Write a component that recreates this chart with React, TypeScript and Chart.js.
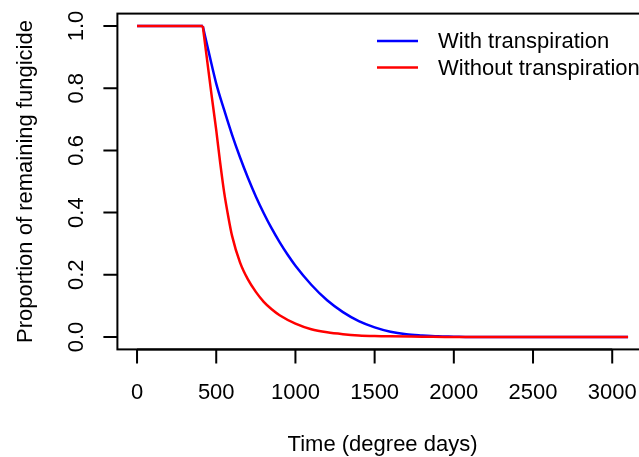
import React, { useEffect, useRef } from "react";
import { Chart, registerables } from "chart.js";

Chart.register(...registerables);

const withTime = [0, 415, 460, 500, 550, 600, 650, 700, 750, 800, 850, 900, 950, 1000, 1100, 1200, 1300, 1400, 1500, 1600, 1700, 1800, 1900, 2000, 2100, 2500, 2800, 3100];
const withValues = [1, 1, 0.9, 0.815, 0.73, 0.65, 0.578, 0.512, 0.452, 0.398, 0.349, 0.305, 0.265, 0.229, 0.168, 0.118, 0.08, 0.051, 0.031, 0.017, 0.009, 0.005, 0.002, 0.001, 0, 0, 0, 0];

const withoutTime = [0, 415, 440, 470, 500, 525, 550, 575, 600, 650, 700, 750, 800, 850, 900, 1000, 1100, 1200, 1300, 1400, 1500, 1600, 1800, 2000, 2500, 3100];
const withoutValues = [1, 1, 0.9, 0.78, 0.665, 0.56, 0.465, 0.39, 0.325, 0.24, 0.185, 0.145, 0.113, 0.089, 0.07, 0.043, 0.025, 0.015, 0.009, 0.005, 0.003, 0.002, 0.001, 0, 0, 0];

// index where the plateau ends and the decay begins
const plateauEnd = 1;

const xTicks = [0, 500, 1000, 1500, 2000, 2500, 3000];
const xTickLabels = ["0", "500", "1000", "1500", "2000", "2500", "3000"];
const yTicks = [0, 0.2, 0.4, 0.6, 0.8, 1.0];
const yTickLabels = ["0.0", "0.2", "0.4", "0.6", "0.8", "1.0"];

const seriesNames = ["With transpiration", "Without transpiration"];
const seriesColors = ["#0000FF", "#FF0000"];
const xTitle = "Time (degree days)";
const yTitle = "Proportion of remaining fungicide";

const FONT = '22px "Liberation Sans", Arial, Helvetica, sans-serif';

const rAxesPlugin = {
  id: "rAxes",
  afterDraw(chart: any) {
    const ctx = chart.ctx as CanvasRenderingContext2D;
    const { left, right, top, bottom } = chart.chartArea;
    const xs = chart.scales.x;
    const ys = chart.scales.y;
    ctx.save();
    ctx.strokeStyle = "#000";
    ctx.fillStyle = "#000";
    ctx.lineWidth = 2;
    ctx.strokeRect(left, top, right - left, bottom - top);
    ctx.font = FONT;
    // x axis
    ctx.beginPath();
    ctx.moveTo(xs.getPixelForValue(xTicks[0]), bottom);
    ctx.lineTo(xs.getPixelForValue(xTicks[xTicks.length - 1]), bottom);
    xTicks.forEach((v) => {
      const px = xs.getPixelForValue(v);
      ctx.moveTo(px, bottom);
      ctx.lineTo(px, bottom + 14);
    });
    ctx.stroke();
    ctx.textAlign = "center";
    ctx.textBaseline = "middle";
    xTicks.forEach((v, i) => {
      ctx.fillText(xTickLabels[i], xs.getPixelForValue(v), bottom + 44);
    });
    ctx.fillText(xTitle, (left + right) / 2, bottom + 96);
    // y axis
    ctx.beginPath();
    yTicks.forEach((v) => {
      const py = ys.getPixelForValue(v);
      ctx.moveTo(left, py);
      ctx.lineTo(left - 14, py);
    });
    ctx.stroke();
    yTicks.forEach((v, i) => {
      const py = ys.getPixelForValue(v);
      ctx.save();
      ctx.translate(left - 40, py);
      ctx.rotate(-Math.PI / 2);
      ctx.fillText(yTickLabels[i], 0, 0);
      ctx.restore();
    });
    ctx.save();
    ctx.translate(26, (top + bottom) / 2);
    ctx.rotate(-Math.PI / 2);
    ctx.fillText(yTitle, 0, 0);
    ctx.restore();
    // legend
    ctx.lineWidth = 2.5;
    seriesNames.forEach((name, i) => {
      const y = 41 + i * 26.5;
      ctx.strokeStyle = seriesColors[i];
      ctx.beginPath();
      ctx.moveTo(377, y);
      ctx.lineTo(418, y);
      ctx.stroke();
      ctx.textAlign = "left";
      ctx.fillStyle = "#000";
      ctx.fillText(name, 438, y + 1);
    });
    ctx.restore();
  },
};

export default function App() {
  const ref = useRef<HTMLCanvasElement | null>(null);
  useEffect(() => {
    if (!ref.current) return;
    const toPts = (xs: number[], ys: number[]) => xs.map((x, i) => ({ x, y: ys[i] }));
    const line = (label: string, pts: { x: number; y: number }[], color: string) => ({
      label,
      data: pts,
      borderColor: color,
      borderWidth: 2.5,
      pointRadius: 0,
      cubicInterpolationMode: "monotone" as const,
      fill: false,
    });
    const redPts = toPts(withoutTime, withoutValues);
    const bluePts = toPts(withTime, withValues);
    const chart = new Chart(ref.current, {
      type: "line",
      data: {
        datasets: [
          line(seriesNames[1], redPts.slice(0, plateauEnd + 1), seriesColors[1]),
          line(seriesNames[1], redPts.slice(plateauEnd), seriesColors[1]),
          line(seriesNames[0], bluePts.slice(0, plateauEnd + 1), seriesColors[0]),
          line(seriesNames[0], bluePts.slice(plateauEnd), seriesColors[0]),
        ],
      },
      options: {
        responsive: false,
        animation: false,
        events: [],
        layout: { padding: { left: 117.4, right: 2.3, top: 13.6, bottom: 107.6 } },
        plugins: { legend: { display: false }, tooltip: { enabled: false } },
        scales: {
          x: { type: "linear", min: -124, max: 3224, display: false },
          y: { type: "linear", min: -0.04, max: 1.04, display: false },
        },
      },
      plugins: [rAxesPlugin],
    });
    return () => chart.destroy();
  }, []);
  return (
    <div style={{ position: "fixed", left: 0, top: 0, width: 639, height: 457, overflow: "hidden", background: "#fff" }}>
      <canvas ref={ref} width={650} height={457} style={{ width: 650, height: 457, display: "block" }} />
    </div>
  );
}
